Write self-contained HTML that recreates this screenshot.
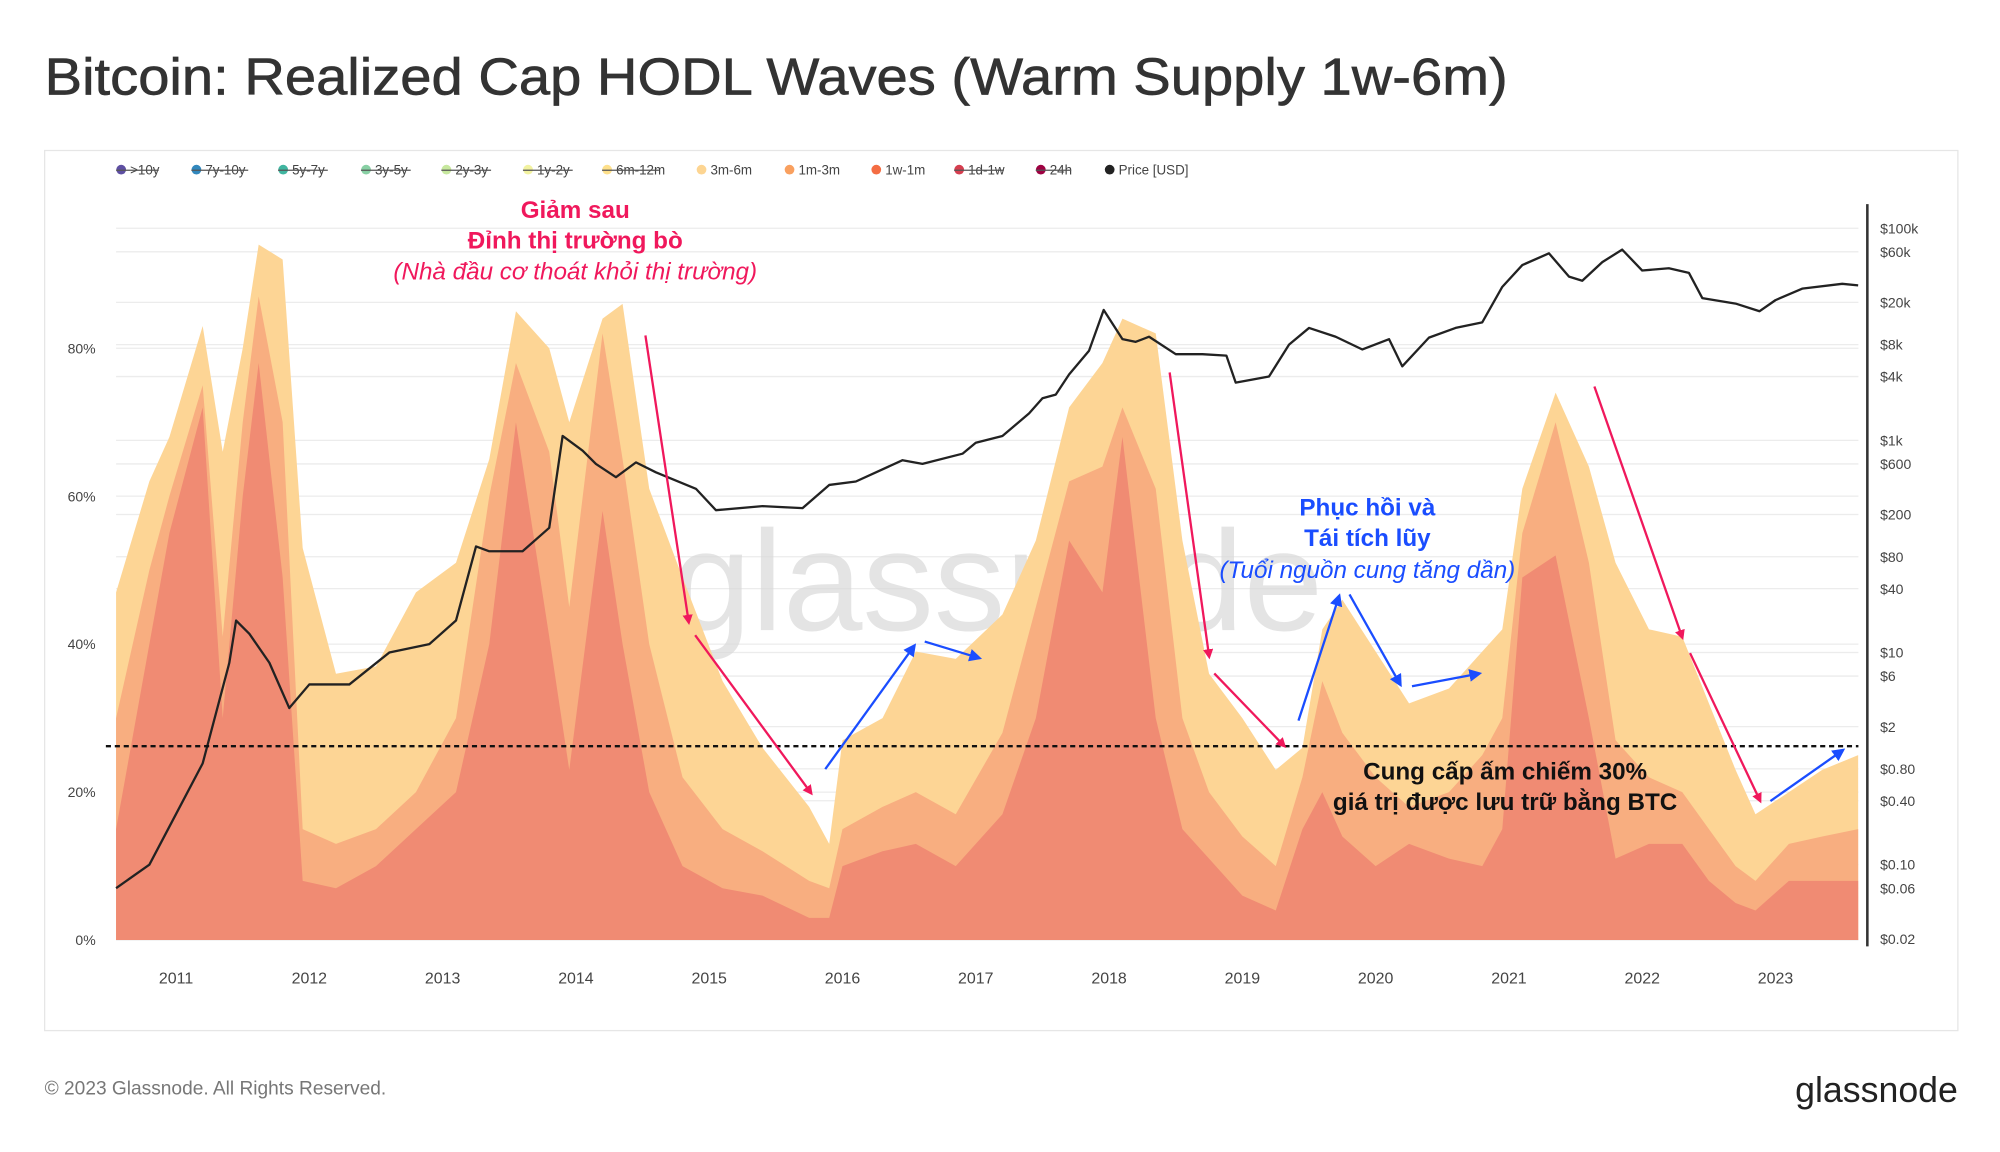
<!DOCTYPE html>
<html><head><meta charset="utf-8"><style>
html,body{margin:0;padding:0;background:#fff;width:2000px;height:1152px;overflow:hidden}
text{font-family:"Liberation Sans","DejaVu Sans",sans-serif}
</style></head><body>
<svg id="chart" width="2000" height="1152" viewBox="0 0 1568 903.17" xmlns="http://www.w3.org/2000/svg">
<defs>
<marker id="ar" markerWidth="8" markerHeight="8" refX="6" refY="4" orient="auto" markerUnits="userSpaceOnUse"><path d="M0,0 L8,4 L0,8 z" fill="#f0185c"/></marker>
<marker id="ab" markerWidth="10" markerHeight="10" refX="8" refY="5" orient="auto" markerUnits="userSpaceOnUse"><path d="M0,0 L10,5 L0,10 z" fill="#1a4dff"/></marker>
</defs>
<text x="35" y="74" font-size="41" fill="#333" stroke="#333" stroke-width="0.5" textLength="1147" lengthAdjust="spacingAndGlyphs">Bitcoin: Realized Cap HODL Waves (Warm Supply 1w-6m)</text>
<rect x="35" y="118" width="1500" height="690" fill="none" stroke="#e6e6e6"/>
<g id="grid"></g>
<text x="782" y="494" font-size="112" fill="#d8d8d8" fill-opacity="0.7" text-anchor="middle">glassnode</text>
<g id="areas"></g>
<g id="legend"></g>
<g id="axes"></g>
<path id="price" fill="none" stroke="#222" stroke-width="1.8" stroke-linejoin="round"/>
<line x1="83" y1="585" x2="1457" y2="585" stroke="#111" stroke-width="1.8" stroke-dasharray="4,3"/>
<g stroke="#f0185c" stroke-width="1.8" marker-end="url(#ar)">
<line x1="506" y1="263" x2="540" y2="488"/><line x1="545" y1="498" x2="636" y2="622"/>
<line x1="917" y1="292" x2="948" y2="515"/><line x1="952" y1="528" x2="1007" y2="585"/>
<line x1="1250" y1="303" x2="1319" y2="500"/><line x1="1325" y1="512" x2="1380" y2="628"/>
</g>
<g stroke="#1a4dff" stroke-width="1.8" marker-end="url(#ab)">
<line x1="647" y1="603" x2="717" y2="506"/><line x1="725" y1="503" x2="768" y2="516"/>
<line x1="1018" y1="565" x2="1050" y2="467"/><line x1="1058" y1="466" x2="1098" y2="537"/>
<line x1="1107" y1="538" x2="1160" y2="528"/><line x1="1388" y1="628" x2="1445" y2="588"/>
</g>
<g text-anchor="middle" fill="#f0185c" font-size="19">
<text x="451" y="171" font-weight="bold">Giảm sau</text>
<text x="451" y="195" font-weight="bold">Đỉnh thị trường bò</text>
<text x="451" y="219" font-style="italic">(Nhà đầu cơ thoát khỏi thị trường)</text>
</g>
<g text-anchor="middle" fill="#1a4dff" font-size="19">
<text x="1072" y="404" font-weight="bold">Phục hồi và</text>
<text x="1072" y="428" font-weight="bold">Tái tích lũy</text>
<text x="1072" y="453" font-style="italic">(Tuổi nguồn cung tăng dần)</text>
</g>
<g text-anchor="middle" fill="#111" font-size="19" font-weight="bold">
<text x="1180" y="611">Cung cấp ấm chiếm 30%</text>
<text x="1180" y="635">giá trị được lưu trữ bằng BTC</text>
</g>
<text x="35" y="858" font-size="15" fill="#777">© 2023 Glassnode. All Rights Reserved.</text>
<text x="1535" y="864" font-size="28" fill="#222" text-anchor="end">glassnode</text>
</svg>
<script>
const dates=[2010.55,2010.8,2010.95,2011.2,2011.35,2011.5,2011.62,2011.8,2011.95,2012.2,2012.5,2012.8,2013.1,2013.35,2013.55,2013.8,2013.95,2014.2,2014.35,2014.55,2014.8,2015.1,2015.4,2015.75,2015.9,2016.0,2016.3,2016.55,2016.85,2017.2,2017.45,2017.7,2017.95,2018.1,2018.35,2018.55,2018.75,2019.0,2019.25,2019.45,2019.6,2019.75,2020.0,2020.25,2020.55,2020.8,2020.95,2021.1,2021.35,2021.6,2021.8,2022.05,2022.3,2022.5,2022.7,2022.85,2023.1,2023.35,2023.62];
const band1w1m=[15,40,55,72,30,60,78,49,8,7,10,15,20,40,70,41,23,58,40,20,10,7,6,3,3,10,12,13,10,17,30,54,47,68,30,15,11,6,4,15,20,14,10,13,11,10,15,49,52,30,11,13,13,8,5,4,8,8,8];
const band1m3m=[15,10,5,3,11,10,9,21,7,6,5,5,10,20,8,25,22,24,25,20,12,8,6,5,4,5,6,7,7,11,15,8,17,4,31,15,9,8,6,7,15,14,12,5,9,15,15,6,18,21,16,9,7,7,5,4,5,6,7];
const band3m6m=[17,12,8,8,25,10,7,22,38,23,22,27,21,5,7,14,25,2,21,21,27,20,14,10,6,12,12,19,21,16,9,10,14,12,21,24,16,16,13,4,7,18,17,14,14,14,12,6,4,13,24,20,21,17,13,9,7,9,10];
const priceDates=[2010.55,2010.8,2011.0,2011.2,2011.4,2011.45,2011.55,2011.7,2011.85,2012.0,2012.3,2012.6,2012.9,2013.1,2013.25,2013.35,2013.6,2013.8,2013.9,2014.05,2014.15,2014.3,2014.45,2014.6,2014.9,2015.05,2015.4,2015.7,2015.9,2016.1,2016.45,2016.6,2016.9,2017.0,2017.2,2017.4,2017.5,2017.6,2017.7,2017.85,2017.96,2018.1,2018.2,2018.3,2018.5,2018.7,2018.88,2018.95,2019.2,2019.35,2019.5,2019.7,2019.9,2020.1,2020.2,2020.4,2020.6,2020.8,2020.95,2021.1,2021.3,2021.45,2021.55,2021.7,2021.85,2022.0,2022.2,2022.35,2022.45,2022.7,2022.88,2023.0,2023.2,2023.5,2023.62];
const priceValues=[0.06,0.1,0.3,0.9,8,20,15,8,3,5,5,10,12,20,100,90,90,150,1100,800,600,450,620,500,350,220,240,230,380,410,650,600,750,950,1100,1800,2500,2700,4200,7000,17000,9000,8500,9500,6500,6500,6300,3500,4000,8000,11500,9500,7200,9000,5000,9300,11500,13000,28000,45000,58000,35000,32000,48000,63000,40000,42000,38000,22000,19500,16500,21000,27000,30000,29000];
const pctTicks=[0,20,40,60,80];
const priceTicks=[0.02,0.06,0.1,0.4,0.8,2,6,10,40,80,200,600,1000,4000,8000,20000,60000,100000];
const priceTickLabels=["$0.02","$0.06","$0.10","$0.40","$0.80","$2","$6","$10","$40","$80","$200","$600","$1k","$4k","$8k","$20k","$60k","$100k"];
const yearTicks=[2011,2012,2013,2014,2015,2016,2017,2018,2019,2020,2021,2022,2023];
const legendLabels=[">10y","7y-10y","5y-7y","3y-5y","2y-3y","1y-2y","6m-12m","3m-6m","1m-3m","1w-1m","1d-1w","24h","Price [USD]"];
const legendColors=["#5e4fa2","#3288bd","#40b5a0","#88d0a4","#c7e89e","#f2f2a0","#fee08b","#fdd592","#f9a05f","#f46d43","#d53e4f","#9e0142","#222"];
const legendX=[91,150,218,283,346,410,472,546,615,683,748,812,866];
const legendHidden=[1,1,1,1,1,1,1,0,0,0,1,1,0];

const NS="http://www.w3.org/2000/svg";
const X=t=>91+(t-2010.55)*104.5;
const Yp=p=>737-p*5.8;
const Yl=v=>736-(Math.log10(v)+1.699)*83.15;
function mk(tag,attrs,parent){const e=document.createElementNS(NS,tag);for(const k in attrs)e.setAttribute(k,attrs[k]);parent.appendChild(e);return e;}
const grid=document.getElementById('grid');
priceTicks.forEach(v=>{const l=mk('line',{x1:91,x2:1457,y1:Yl(v),y2:Yl(v),stroke:'#ececec','stroke-width':1},grid);

});
pctTicks.forEach(v=>{const l=mk('line',{x1:91,x2:1457,y1:Yp(v),y2:Yp(v),stroke:'#ececec','stroke-width':1},grid);

});
const areas=document.getElementById('areas');
const bands=[band1w1m,band1m3m,band3m6m];
const bandNames=['area-1w-1m','area-1m-3m','area-3m-6m'];
const colors=['#f08b73','#f8ae80','#fdd595'];
const base=dates.map(()=>0);
const layers=[];
bands.forEach((b,i)=>{const low=base.slice();b.forEach((v,j)=>base[j]+=v);layers.push([low,base.slice()]);});
for(let i=layers.length-1;i>=0;i--){const top=layers[i][1];
let d='M'+X(dates[0])+','+Yp(0);
dates.forEach((t,j)=>{d+=' L'+X(t).toFixed(1)+','+Yp(top[j]).toFixed(1);});
d+=' L'+X(dates[dates.length-1])+','+Yp(0)+' Z';
const p=mk('path',{d:d,fill:colors[i]},areas);

}
let pd='';priceDates.forEach((t,j)=>{pd+=(j?' L':'M')+X(t).toFixed(1)+','+Yl(priceValues[j]).toFixed(1);});
document.getElementById('price').setAttribute('d',pd);
const ax=document.getElementById('axes');
const rl=mk('line',{x1:1464,x2:1464,y1:160,y2:742,stroke:'#333','stroke-width':2},ax);


pctTicks.forEach(v=>{const t=mk('text',{x:75,y:Yp(v)+4,'font-size':11,fill:'#444','text-anchor':'end'},ax);t.textContent=v+'%';

});
priceTicks.forEach((v,i)=>{const t=mk('text',{x:1474,y:Yl(v)+4,'font-size':11,fill:'#444'},ax);t.textContent=priceTickLabels[i];

});
yearTicks.forEach(y=>{const t=mk('text',{x:X(y),y:771,'font-size':12.5,fill:'#444','text-anchor':'middle'},ax);t.textContent=y;

});
const lg=document.getElementById('legend');
legendLabels.forEach((s,i)=>{const g=mk('g',{},lg);


mk('circle',{cx:legendX[i]+4,cy:133,r:3.8,fill:legendColors[i]},g);
const t=mk('text',{x:legendX[i]+11,y:137,'font-size':10.5,fill:'#444'},g);t.textContent=s;
if(legendHidden[i])mk('line',{x1:legendX[i],x2:legendX[i]+11+s.length*5.6,y1:133.5,y2:133.5,stroke:'#555','stroke-width':1},g);});
</script>
</body></html>
